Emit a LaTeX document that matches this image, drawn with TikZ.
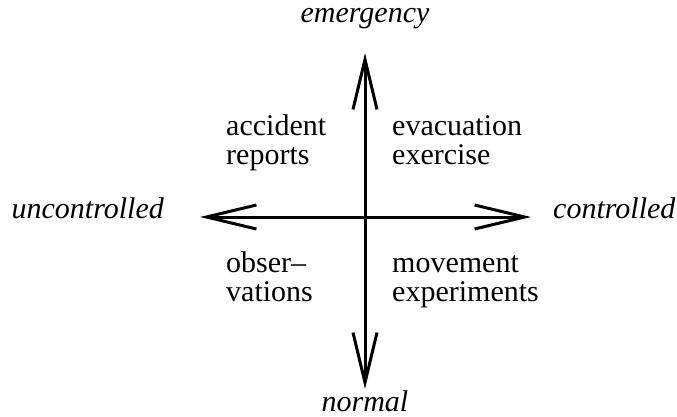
\documentclass[tikz,border=0pt]{standalone}
\usepackage{fontspec}
\setmainfont{Liberation Serif}
\usetikzlibrary{arrows.meta}
\begin{document}
\begin{tikzpicture}[x=1pt,y=1pt,
  axis/.style={line width=3pt,-{Straight Barb[length=50pt,width=24pt,line width=3pt]}},
  lab/.style={inner sep=0pt,font=\fontsize{30}{29}\selectfont\itshape},
  quad/.style={inner sep=0pt,align=left,anchor=base west,font=\fontsize{30}{29}\selectfont}]
\useasboundingbox (0,0) rectangle (677,416);
% centre and arrow tips (y measured upward: y = 416 - pixel row)
\coordinate (c) at (365,199);
\coordinate (tn) at (365,363);
\coordinate (ts) at (365,27);
\coordinate (tw) at (200,199);
\coordinate (te) at (531,199);
\draw[axis] (c) -- (tn);
\draw[axis] (c) -- (ts);
\draw[axis] (c) -- (tw);
\draw[axis] (c) -- (te);
\node[lab,anchor=base] (em) at (365,393) {emergency};
\node[lab,anchor=base] (no) at (365,5) {normal};
\node[lab,anchor=base east] (un) at (164,198) {uncontrolled};
\node[lab,anchor=base west] (co) at (553,198) {controlled};
\node[quad] (ar) at (226,252) {accident\\reports};
\node[quad] (ee) at (392,252) {evacuation\\exercise};
\node[quad] (ob) at (226,115) {obser--\\vations};
\node[quad] (me) at (392,115) {movement\\experiments};
\end{tikzpicture}
\end{document}
